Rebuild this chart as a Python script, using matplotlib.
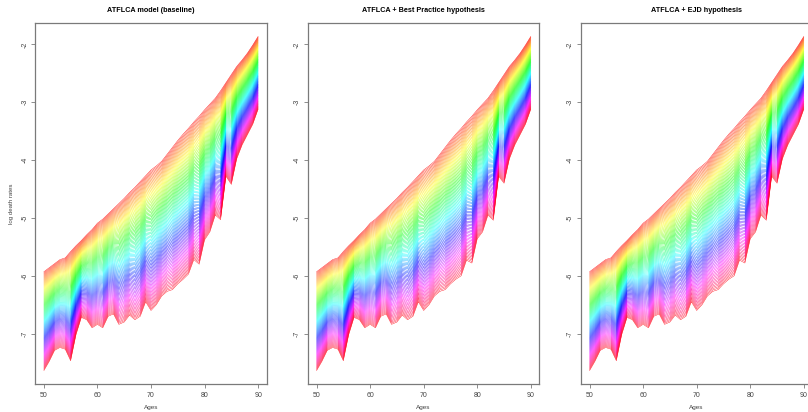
import numpy as np
import matplotlib
matplotlib.use("Agg")
import matplotlib.pyplot as plt
from matplotlib.colors import hsv_to_rgb

plt.rcParams['font.family'] = ['Liberation Sans', 'DejaVu Sans']

# ---------------- data ----------------
ages = list(range(50, 91))
years = list(range(2011, 2111))

# first forecast year (top curve), log death rates by age
top_curve = [-5.93, -5.86, -5.79, -5.72, -5.69, -5.58, -5.48, -5.39, -5.29, -5.20,
             -5.09, -5.02, -4.93, -4.84, -4.75, -4.66, -4.56, -4.47, -4.37, -4.27,
             -4.17, -4.10, -4.02, -3.90, -3.78, -3.66, -3.55, -3.45, -3.34, -3.24,
             -3.13, -3.03, -2.93, -2.80, -2.66, -2.52, -2.38, -2.27, -2.15, -2.01,
             -1.86]

# last forecast year (bottom curve) for each scenario
bottom_baseline = [-7.64, -7.48, -7.29, -7.24, -7.27, -7.47, -7.02, -6.72, -6.76, -6.90,
                   -6.84, -6.90, -6.70, -6.66, -6.84, -6.80, -6.68, -6.76, -6.70, -6.45,
                   -6.60, -6.50, -6.35, -6.27, -6.24, -6.14, -6.06, -5.97, -5.72, -5.80,
                   -5.38, -5.24, -4.95, -5.03, -4.28, -4.42, -3.98, -3.74, -3.56, -3.38,
                   -3.12]
bottom_best = [-7.64, -7.48, -7.29, -7.24, -7.27, -7.47, -7.02, -6.72, -6.76, -6.90,
               -6.84, -6.90, -6.70, -6.66, -6.84, -6.80, -6.68, -6.76, -6.70, -6.45,
               -6.60, -6.50, -6.35, -6.27, -6.24, -6.14, -6.06, -6.00, -5.73, -5.78,
               -5.36, -5.24, -4.95, -5.04, -4.28, -4.40, -3.98, -3.74, -3.56, -3.38,
               -3.12]
bottom_ejd = [-7.64, -7.48, -7.29, -7.24, -7.27, -7.47, -7.02, -6.72, -6.76, -6.90,
              -6.84, -6.90, -6.70, -6.66, -6.84, -6.80, -6.68, -6.76, -6.70, -6.45,
              -6.60, -6.50, -6.35, -6.27, -6.24, -6.14, -6.06, -6.00, -5.73, -5.78,
              -5.36, -5.24, -4.95, -5.04, -4.28, -4.40, -3.98, -3.74, -3.56, -3.38,
              -3.12]

titles = ["ATFLCA model (baseline)",
          "ATFLCA + Best Practice hypothesis",
          "ATFLCA + EJD hypothesis"]
bottoms = [bottom_baseline, bottom_best, bottom_ejd]
yticks = [-2, -3, -4, -5, -6, -7]
xticks = [50, 60, 70, 80, 90]

# ---------------- figure ----------------
W, H = 808, 412
fig = plt.figure(figsize=(W / 100, H / 100), dpi=100)

box_w = 231.4
lefts = [35.3, 308.0, 581.0]
top_px, bot_px = 23.0, 384.0

n = len(years)
hues = np.arange(n) / n
cols = hsv_to_rgb(np.column_stack([hues, np.ones(n), np.ones(n)]))

top_arr = np.array(top_curve)
frame_col = "#7a7a7a"
txt_col = "#444444"

for k in range(3):
    ax = fig.add_axes([lefts[k] / W, (H - bot_px) / H, box_w / W, (bot_px - top_px) / H])
    bot_arr = np.array(bottoms[k])
    for i, yr in enumerate(years):
        w = (yr - years[0]) / (years[-1] - years[0])
        ax.plot(ages, top_arr + w * (bot_arr - top_arr), color=cols[i], lw=0.28)
    ax.margins(x=0.04, y=0.04)
    ax.set_xticks(xticks)
    ax.set_yticks(yticks)
    ax.set_yticklabels([str(v) for v in yticks])
    ax.set_xticklabels([str(v) for v in xticks])
    ax.tick_params(axis='y', pad=2)
    for lab in ax.get_yticklabels():
        lab.set_rotation(90)
        lab.set_va('center')
    ax.tick_params(direction='out', length=3, width=0.6, colors=frame_col,
                   labelcolor=txt_col, labelsize=5)
    ax.tick_params(axis='x', pad=3)
    for s in ax.spines.values():
        s.set_color(frame_col)
        s.set_linewidth(0.9)
    ax.set_title(titles[k], fontsize=5.2, fontweight='bold', pad=8)
    ax.set_xlabel("Ages", fontsize=4.6, color=txt_col, labelpad=4)
    if k == 0:
        ax.set_ylabel("log death rates", fontsize=4.4, color=txt_col, labelpad=5)

fig.savefig("out.png", dpi=100)
